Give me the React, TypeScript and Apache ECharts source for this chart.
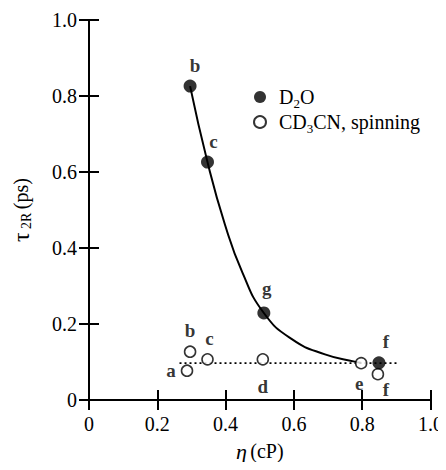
import React, { useEffect, useRef } from "react";
import * as echarts from "echarts";

// D2O (filled circles)
const d2oEta = [0.296, 0.347, 0.512, 0.849];
const d2oTau = [0.826, 0.626, 0.229, 0.098];
const d2oTags = ["b", "c", "g", "f"];

// CD3CN, spinning (open circles)
const cdEta = [0.287, 0.296, 0.347, 0.509, 0.797, 0.846];
const cdTau = [0.077, 0.127, 0.107, 0.107, 0.097, 0.068];
const cdTags = ["a", "b", "c", "d", "e", "f"];

// solid curve traced through the D2O points
const fitEta = [0.296, 0.347, 0.398, 0.449, 0.512, 0.594, 0.691, 0.778, 0.797];
const fitTau = [0.826, 0.626, 0.462, 0.336, 0.229, 0.160, 0.120, 0.101, 0.098];

// dotted reference line
const refEta = [0.265, 0.905];
const refTau = [0.097, 0.097];

// label placement (style only)
const d2oLabelPos: any[] = [
  ["top", [5, 0]],
  ["top", [6, 0]],
  ["top", [3, -3]],
  ["top", [7, 0]],
];
const cdLabelPos: any[] = [
  ["left", [0, 0]],
  ["top", [0, 0]],
  ["top", [2, 0]],
  ["bottom", [0, 6]],
  ["bottom", [-2, 0]],
  ["bottom", [8, -5]],
];

const FONT = "Liberation Serif";

export default function App() {
  const ref = useRef<HTMLDivElement>(null);
  useEffect(() => {
    if (!ref.current) return;
    const chart = echarts.init(ref.current, null, { renderer: "svg" });
    const fmt = (v: number) => (v === 0 ? "0" : v.toFixed(1));
    const axisCommon = {
      type: "value",
      min: 0,
      max: 1,
      interval: 0.2,
      axisLine: { show: true, lineStyle: { color: "#000", width: 2 } },
      axisTick: { show: true, inside: false, length: 10, lineStyle: { color: "#000", width: 2 } },
      splitLine: { show: false },
    };
    const labelStyle = { color: "#000", fontFamily: FONT, fontSize: 20 };
    const pointLabelStyle = { color: "#000", fontFamily: FONT, fontSize: 19, fontWeight: "bold" };
    const rich = {
      n: { fontFamily: FONT, fontSize: 20, color: "#000" },
      sub: { fontFamily: FONT, fontSize: 13, color: "#000", padding: [13, 0, 0, 0] },
      g: { width: 8 },
    };
    chart.setOption({
      animation: false,
      backgroundColor: "#fff",
      grid: { left: 89, right: 13, top: 20, bottom: 70 },
      legend: {
        orient: "vertical",
        left: 248,
        top: 82,
        itemGap: 2,
        itemWidth: 12,
        itemHeight: 12,
        icon: "circle",
        data: ["D2O", "CD3CN, spinning"],
        formatter: (name: string) =>
          name === "D2O" ? "{g|}{n|D}{sub|2}{n|O}" : "{g|}{n|CD}{sub|3}{n|CN, spinning}",
        textStyle: { rich },
      },
      xAxis: [
        {
          ...axisCommon,
          position: "bottom",
          name: "{t|η} {n|(cP)}",
          nameLocation: "middle",
          nameGap: 40,
          nameTextStyle: {
            rich: {
              t: { fontFamily: FONT, fontSize: 22, fontStyle: "italic", color: "#000" },
              n: { fontFamily: FONT, fontSize: 20, color: "#000" },
            },
          },
          axisLabel: { ...labelStyle, margin: 14, formatter: fmt },
        },
        {
          ...axisCommon,
          position: "top",
          axisLabel: { show: false },
        },
      ],
      yAxis: [
        {
          ...axisCommon,
          position: "left",
          name: "{t|τ} {sub|2R} {n|(ps)}",
          nameLocation: "middle",
          nameRotate: 90,
          nameGap: 56,
          nameTextStyle: {
            rich: {
              t: { fontFamily: FONT, fontSize: 24, color: "#000" },
              sub: { fontFamily: FONT, fontSize: 14, color: "#000", padding: [11, 0, 0, 0] },
              n: { fontFamily: FONT, fontSize: 20, color: "#000" },
            },
          },
          axisLabel: { ...labelStyle, margin: 12, formatter: fmt },
        },
        {
          ...axisCommon,
          position: "right",
          axisLabel: { show: false },
        },
      ],
      series: [
        {
          type: "line",
          name: "dotted",
          data: refEta.map((x, i) => [x, refTau[i]]),
          showSymbol: false,
          symbol: "none",
          lineStyle: { color: "#000", width: 1.6, type: [2, 3] },
          z: 1,
          silent: true,
        },
        {
          type: "line",
          name: "fit",
          data: fitEta.map((x, i) => [x, fitTau[i]]),
          smooth: 0.5,
          symbol: "none",
          showSymbol: false,
          lineStyle: { color: "#000", width: 2 },
          z: 2,
          silent: true,
        },
        {
          type: "scatter",
          name: "CD3CN, spinning",
          symbol: "circle",
          symbolSize: 11,
          itemStyle: { color: "#fff", borderColor: "#000", borderWidth: 1.6 },
          data: cdEta.map((x, i) => ({
            value: [x, cdTau[i], cdTags[i]],
            label: { position: cdLabelPos[i][0], offset: cdLabelPos[i][1] },
          })),
          label: { show: true, formatter: (p: any) => p.value[2], distance: 5, ...pointLabelStyle },
          z: 3,
        },
        {
          type: "scatter",
          name: "D2O",
          symbol: "circle",
          symbolSize: 13,
          itemStyle: { color: "#000" },
          data: d2oEta.map((x, i) => ({
            value: [x, d2oTau[i], d2oTags[i]],
            label: { position: d2oLabelPos[i][0], offset: d2oLabelPos[i][1] },
          })),
          label: { show: true, formatter: (p: any) => p.value[2], distance: 5, ...pointLabelStyle },
          z: 4,
        },
      ],
    });
    return () => chart.dispose();
  }, []);
  return <div ref={ref} style={{ width: 446, height: 470, margin: -8 }} />;
}
